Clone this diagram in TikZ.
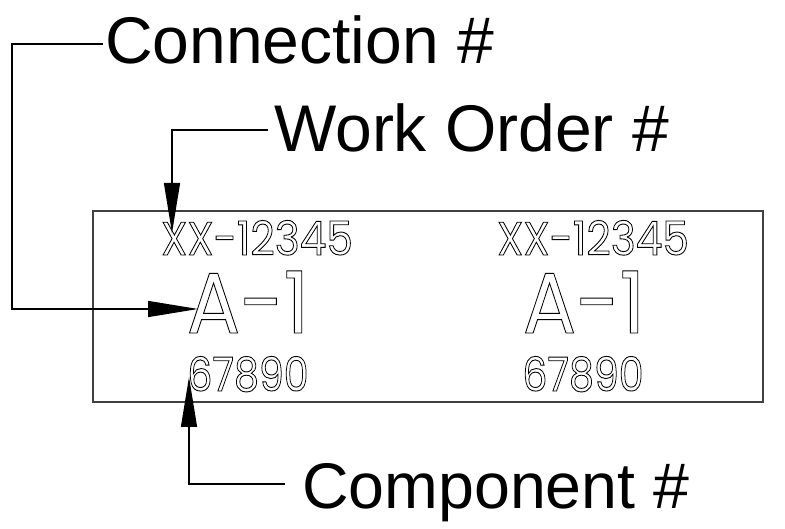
\documentclass[tikz,border=0pt]{standalone}
\usepackage{fontspec}
\usepackage{graphicx}
\setmainfont{Liberation Sans}
\newfontfamily\cadfont{Poppins}
\usetikzlibrary{arrows.meta}
\newcommand\outlinetext[2]{\scalebox{#1}[1]{\special{pdf:literal direct 1 Tr 0.9 w}#2\special{pdf:literal direct 0 Tr}}}
\definecolor{platecol}{HTML}{404040}
\tikzset{
  label/.style={inner sep=0pt, anchor=base west, font=\fontsize{66}{70}\selectfont},
  leader/.style={line width=1.3pt, black},
  tip/.style={-{Triangle[length=50pt,width=16pt]}},
  plate/.style={draw=platecol, line width=2pt, inner sep=0pt, minimum width=670pt, minimum height=191pt},
  small/.style={inner sep=0pt, anchor=base, font=\cadfont\fontsize{47}{50}\selectfont},
  big/.style={inner sep=0pt, anchor=base, font=\cadfont\fontsize{86}{90}\selectfont},
}
\begin{document}
\begin{tikzpicture}[x=1pt,y=-1pt]
\useasboundingbox (0,0) rectangle (785,529);
\node[plate] (box) at (428,306.5) {};
% plate texts
\node[small] (wo1) at (257,255) {\outlinetext{0.9}{XX-12345}};
\node[big]   (an1) at (248,333) {\outlinetext{0.92}{A-1}};
\node[small] (cp1) at (248,391) {\outlinetext{0.84}{67890}};
\node[small] (wo2) at (593,255) {\outlinetext{0.9}{XX-12345}};
\node[big]   (an2) at (584,333) {\outlinetext{0.92}{A-1}};
\node[small] (cp2) at (583,391) {\outlinetext{0.84}{67890}};
% labels
\node[label] (conn) at (105,64) {Connection \#};
\node[label] (work) at (274,152) {Work Order \#};
\node[label, font=\fontsize{64.5}{70}\selectfont] (comp) at (302,508) {Component \#};
% leader bends and tips
\coordinate (c1) at (12,44);
\coordinate (c2) at (12,309);
\coordinate (ctip) at (198,309);
\coordinate (w1) at (172,130);
\coordinate (wtip) at (172,233);
\coordinate (p1) at (189,484);
\coordinate (ptip) at (189,377);
\draw[leader,tip] ([xshift=-2pt]conn.west |- c1) -- (c1) -- (c2) -- (ctip);
\draw[leader,tip] ([xshift=-6pt]work.west |- w1) -- (w1) -- (wtip);
\draw[leader,tip] ([xshift=-17pt]comp.west |- p1) -- (p1) -- (ptip);
\end{tikzpicture}
\end{document}
